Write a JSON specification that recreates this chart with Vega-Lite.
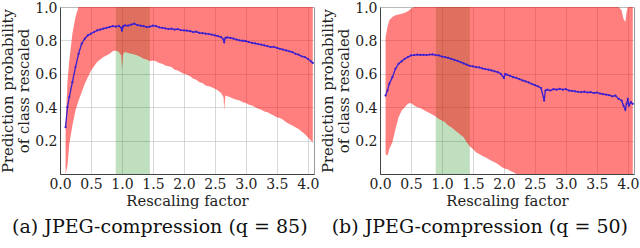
{
 "$schema": "https://vega.github.io/schema/vega-lite/v6.json",
 "background": "white",
 "padding": {"left": 0, "top": 0, "right": 0, "bottom": 0},
 "spacing": 66,
 "bounds": "flush",
 "config": {
  "font": "DejaVu Serif",
  "view": {"stroke": "#9a9a9a", "strokeWidth": 1},
  "axis": {"labelFont": "DejaVu Serif", "titleFont": "DejaVu Serif", "labelFontSize": 14, "titleFontSize": 14.8, "titleFontWeight": "normal", "labelColor": "#222", "titleColor": "#222", "grid": true, "gridColor": "#c8c8c8", "gridOpacity": 0.7, "ticks": false, "domainColor": "#444", "zindex": 1, "labelOverlap": false, "labelFlush": false},
  "title": {"font": "DejaVu Serif", "fontSize": 19, "fontWeight": "normal", "color": "#111", "orient": "bottom", "anchor": "middle", "frame": "bounds", "offset": 10}
 },
 "datasets": {
  "band": [{"x1": 0.9, "x2": 1.45}],
  "a": [
   {"x":0.09,"m":0.28,"lo":0.0,"hi":0.3},
   {"x":0.12,"m":0.40,"lo":0.05,"hi":0.55},
   {"x":0.15,"m":0.46,"lo":0.18,"hi":0.68},
   {"x":0.2,"m":0.55,"lo":0.29,"hi":0.84},
   {"x":0.25,"m":0.64,"lo":0.38,"hi":0.94},
   {"x":0.3,"m":0.72,"lo":0.44,"hi":1.0},
   {"x":0.35,"m":0.78,"lo":0.49,"hi":1.0},
   {"x":0.4,"m":0.81,"lo":0.54,"hi":1.0},
   {"x":0.45,"m":0.83,"lo":0.58,"hi":1.0},
   {"x":0.5,"m":0.84,"lo":0.62,"hi":1.0},
   {"x":0.55,"m":0.85,"lo":0.645,"hi":1.0},
   {"x":0.6,"m":0.86,"lo":0.67,"hi":1.0},
   {"x":0.65,"m":0.865,"lo":0.685,"hi":1.0},
   {"x":0.7,"m":0.87,"lo":0.70,"hi":1.0},
   {"x":0.75,"m":0.875,"lo":0.71,"hi":1.0},
   {"x":0.8,"m":0.88,"lo":0.72,"hi":1.0},
   {"x":0.85,"m":0.885,"lo":0.735,"hi":1.0},
   {"x":0.9,"m":0.882,"lo":0.74,"hi":1.0},
   {"x":0.95,"m":0.887,"lo":0.73,"hi":1.0},
   {"x":0.99,"m":0.875,"lo":0.71,"hi":1.0},
   {"x":1.0,"m":0.86,"lo":0.63,"hi":1.0},
   {"x":1.02,"m":0.885,"lo":0.72,"hi":1.0},
   {"x":1.05,"m":0.89,"lo":0.73,"hi":1.0},
   {"x":1.1,"m":0.888,"lo":0.725,"hi":1.0},
   {"x":1.15,"m":0.895,"lo":0.72,"hi":1.0},
   {"x":1.2,"m":0.90,"lo":0.715,"hi":1.0},
   {"x":1.25,"m":0.892,"lo":0.71,"hi":1.0},
   {"x":1.3,"m":0.888,"lo":0.70,"hi":1.0},
   {"x":1.35,"m":0.885,"lo":0.69,"hi":1.0},
   {"x":1.4,"m":0.88,"lo":0.685,"hi":1.0},
   {"x":1.45,"m":0.882,"lo":0.675,"hi":1.0},
   {"x":1.5,"m":0.888,"lo":0.68,"hi":1.0},
   {"x":1.55,"m":0.885,"lo":0.675,"hi":1.0},
   {"x":1.6,"m":0.878,"lo":0.665,"hi":1.0},
   {"x":1.65,"m":0.875,"lo":0.66,"hi":1.0},
   {"x":1.7,"m":0.872,"lo":0.65,"hi":1.0},
   {"x":1.75,"m":0.868,"lo":0.645,"hi":1.0},
   {"x":1.8,"m":0.87,"lo":0.64,"hi":1.0},
   {"x":1.85,"m":0.865,"lo":0.625,"hi":1.0},
   {"x":1.9,"m":0.868,"lo":0.62,"hi":1.0},
   {"x":1.95,"m":0.862,"lo":0.61,"hi":1.0},
   {"x":2.0,"m":0.86,"lo":0.60,"hi":1.0},
   {"x":2.05,"m":0.858,"lo":0.595,"hi":1.0},
   {"x":2.1,"m":0.855,"lo":0.585,"hi":1.0},
   {"x":2.15,"m":0.85,"lo":0.57,"hi":1.0},
   {"x":2.2,"m":0.852,"lo":0.565,"hi":1.0},
   {"x":2.25,"m":0.845,"lo":0.55,"hi":1.0},
   {"x":2.3,"m":0.843,"lo":0.545,"hi":1.0},
   {"x":2.35,"m":0.84,"lo":0.53,"hi":1.0},
   {"x":2.4,"m":0.838,"lo":0.525,"hi":1.0},
   {"x":2.45,"m":0.835,"lo":0.52,"hi":1.0},
   {"x":2.5,"m":0.83,"lo":0.51,"hi":1.0},
   {"x":2.55,"m":0.825,"lo":0.50,"hi":1.0},
   {"x":2.6,"m":0.82,"lo":0.485,"hi":1.0},
   {"x":2.64,"m":0.805,"lo":0.46,"hi":1.0},
   {"x":2.65,"m":0.79,"lo":0.38,"hi":1.0},
   {"x":2.67,"m":0.815,"lo":0.47,"hi":1.0},
   {"x":2.7,"m":0.818,"lo":0.465,"hi":1.0},
   {"x":2.75,"m":0.815,"lo":0.46,"hi":1.0},
   {"x":2.8,"m":0.81,"lo":0.45,"hi":1.0},
   {"x":2.85,"m":0.805,"lo":0.445,"hi":1.0},
   {"x":2.9,"m":0.80,"lo":0.44,"hi":1.0},
   {"x":2.95,"m":0.798,"lo":0.43,"hi":1.0},
   {"x":3.0,"m":0.795,"lo":0.425,"hi":1.0},
   {"x":3.05,"m":0.79,"lo":0.415,"hi":1.0},
   {"x":3.1,"m":0.785,"lo":0.41,"hi":1.0},
   {"x":3.15,"m":0.782,"lo":0.40,"hi":1.0},
   {"x":3.2,"m":0.778,"lo":0.39,"hi":1.0},
   {"x":3.25,"m":0.775,"lo":0.385,"hi":1.0},
   {"x":3.3,"m":0.77,"lo":0.375,"hi":1.0},
   {"x":3.35,"m":0.765,"lo":0.37,"hi":1.0},
   {"x":3.4,"m":0.76,"lo":0.36,"hi":1.0},
   {"x":3.45,"m":0.762,"lo":0.35,"hi":1.0},
   {"x":3.5,"m":0.755,"lo":0.34,"hi":1.0},
   {"x":3.55,"m":0.75,"lo":0.335,"hi":1.0},
   {"x":3.6,"m":0.745,"lo":0.325,"hi":1.0},
   {"x":3.65,"m":0.74,"lo":0.31,"hi":1.0},
   {"x":3.7,"m":0.735,"lo":0.30,"hi":1.0},
   {"x":3.75,"m":0.73,"lo":0.29,"hi":1.0},
   {"x":3.8,"m":0.72,"lo":0.28,"hi":1.0},
   {"x":3.85,"m":0.715,"lo":0.27,"hi":1.0},
   {"x":3.9,"m":0.705,"lo":0.255,"hi":1.0},
   {"x":3.95,"m":0.70,"lo":0.24,"hi":1.0},
   {"x":4.0,"m":0.69,"lo":0.22,"hi":1.0},
   {"x":4.05,"m":0.675,"lo":0.20,"hi":1.0},
   {"x":4.08,"m":0.665,"lo":0.19,"hi":1.0}
  ],
  "b": [
   {"x":0.09,"m":0.47,"lo":0.12,"hi":0.82},
   {"x":0.12,"m":0.50,"lo":0.11,"hi":0.88},
   {"x":0.15,"m":0.54,"lo":0.15,"hi":0.92},
   {"x":0.2,"m":0.58,"lo":0.19,"hi":0.94},
   {"x":0.25,"m":0.63,"lo":0.27,"hi":0.95},
   {"x":0.3,"m":0.66,"lo":0.34,"hi":0.955},
   {"x":0.35,"m":0.675,"lo":0.38,"hi":0.96},
   {"x":0.4,"m":0.69,"lo":0.40,"hi":0.965},
   {"x":0.45,"m":0.70,"lo":0.42,"hi":0.975},
   {"x":0.5,"m":0.71,"lo":0.425,"hi":0.99},
   {"x":0.55,"m":0.712,"lo":0.41,"hi":1.0},
   {"x":0.6,"m":0.715,"lo":0.40,"hi":1.0},
   {"x":0.65,"m":0.713,"lo":0.395,"hi":1.0},
   {"x":0.7,"m":0.714,"lo":0.385,"hi":1.0},
   {"x":0.75,"m":0.712,"lo":0.375,"hi":1.0},
   {"x":0.8,"m":0.715,"lo":0.365,"hi":1.0},
   {"x":0.85,"m":0.716,"lo":0.355,"hi":1.0},
   {"x":0.9,"m":0.712,"lo":0.345,"hi":1.0},
   {"x":0.95,"m":0.71,"lo":0.33,"hi":1.0},
   {"x":1.0,"m":0.703,"lo":0.32,"hi":1.0},
   {"x":1.05,"m":0.70,"lo":0.31,"hi":1.0},
   {"x":1.1,"m":0.695,"lo":0.29,"hi":1.0},
   {"x":1.15,"m":0.69,"lo":0.28,"hi":1.0},
   {"x":1.2,"m":0.683,"lo":0.265,"hi":1.0},
   {"x":1.25,"m":0.678,"lo":0.25,"hi":1.0},
   {"x":1.3,"m":0.67,"lo":0.235,"hi":1.0},
   {"x":1.35,"m":0.662,"lo":0.22,"hi":1.0},
   {"x":1.4,"m":0.655,"lo":0.19,"hi":1.0},
   {"x":1.45,"m":0.648,"lo":0.165,"hi":1.0},
   {"x":1.5,"m":0.645,"lo":0.15,"hi":1.0},
   {"x":1.55,"m":0.64,"lo":0.13,"hi":1.0},
   {"x":1.6,"m":0.638,"lo":0.12,"hi":1.0},
   {"x":1.65,"m":0.632,"lo":0.11,"hi":1.0},
   {"x":1.7,"m":0.628,"lo":0.10,"hi":1.0},
   {"x":1.75,"m":0.625,"lo":0.09,"hi":1.0},
   {"x":1.8,"m":0.62,"lo":0.08,"hi":1.0},
   {"x":1.85,"m":0.615,"lo":0.07,"hi":1.0},
   {"x":1.9,"m":0.61,"lo":0.06,"hi":1.0},
   {"x":1.95,"m":0.60,"lo":0.045,"hi":1.0},
   {"x":2.0,"m":0.575,"lo":0.035,"hi":1.0},
   {"x":2.02,"m":0.598,"lo":0.032,"hi":1.0},
   {"x":2.05,"m":0.595,"lo":0.03,"hi":1.0},
   {"x":2.1,"m":0.588,"lo":0.02,"hi":1.0},
   {"x":2.15,"m":0.58,"lo":0.01,"hi":1.0},
   {"x":2.2,"m":0.575,"lo":0.0,"hi":1.0},
   {"x":2.25,"m":0.568,"lo":0.0,"hi":1.0},
   {"x":2.3,"m":0.56,"lo":0.0,"hi":1.0},
   {"x":2.35,"m":0.555,"lo":0.0,"hi":1.0},
   {"x":2.4,"m":0.548,"lo":0.0,"hi":1.0},
   {"x":2.45,"m":0.54,"lo":0.0,"hi":1.0},
   {"x":2.5,"m":0.532,"lo":0.0,"hi":1.0},
   {"x":2.55,"m":0.525,"lo":0.0,"hi":1.0},
   {"x":2.6,"m":0.515,"lo":0.0,"hi":1.0},
   {"x":2.65,"m":0.44,"lo":0.0,"hi":1.0},
   {"x":2.67,"m":0.50,"lo":0.0,"hi":1.0},
   {"x":2.7,"m":0.505,"lo":0.0,"hi":1.0},
   {"x":2.75,"m":0.50,"lo":0.0,"hi":1.0},
   {"x":2.8,"m":0.508,"lo":0.0,"hi":1.0},
   {"x":2.85,"m":0.505,"lo":0.0,"hi":1.0},
   {"x":2.9,"m":0.51,"lo":0.0,"hi":1.0},
   {"x":2.95,"m":0.505,"lo":0.0,"hi":1.0},
   {"x":3.0,"m":0.508,"lo":0.0,"hi":1.0},
   {"x":3.05,"m":0.50,"lo":0.0,"hi":1.0},
   {"x":3.1,"m":0.498,"lo":0.0,"hi":1.0},
   {"x":3.15,"m":0.495,"lo":0.0,"hi":1.0},
   {"x":3.2,"m":0.492,"lo":0.0,"hi":1.0},
   {"x":3.25,"m":0.49,"lo":0.0,"hi":1.0},
   {"x":3.3,"m":0.493,"lo":0.0,"hi":1.0},
   {"x":3.35,"m":0.488,"lo":0.0,"hi":1.0},
   {"x":3.4,"m":0.49,"lo":0.0,"hi":1.0},
   {"x":3.45,"m":0.485,"lo":0.0,"hi":1.0},
   {"x":3.5,"m":0.488,"lo":0.0,"hi":1.0},
   {"x":3.55,"m":0.482,"lo":0.0,"hi":1.0},
   {"x":3.6,"m":0.478,"lo":0.0,"hi":1.0},
   {"x":3.65,"m":0.475,"lo":0.0,"hi":1.0},
   {"x":3.7,"m":0.472,"lo":0.0,"hi":1.0},
   {"x":3.75,"m":0.465,"lo":0.0,"hi":1.0},
   {"x":3.8,"m":0.47,"lo":0.0,"hi":1.0},
   {"x":3.85,"m":0.45,"lo":0.0,"hi":1.0},
   {"x":3.9,"m":0.44,"lo":0.0,"hi":0.98},
   {"x":3.93,"m":0.41,"lo":0.0,"hi":0.93},
   {"x":3.96,"m":0.385,"lo":0.0,"hi":0.91},
   {"x":3.98,"m":0.42,"lo":0.0,"hi":0.97},
   {"x":4.0,"m":0.45,"lo":0.0,"hi":1.0},
   {"x":4.02,"m":0.41,"lo":0.0,"hi":1.0},
   {"x":4.05,"m":0.43,"lo":0.0,"hi":1.0},
   {"x":4.08,"m":0.42,"lo":0.0,"hi":1.0}
  ]
 },
 "hconcat": [
  {
   "width": 254, "height": 167,
   "title": {"text": "(a) JPEG-compression (q = 85)"},
   "encoding": {
    "x": {"field": "x", "type": "quantitative", "scale": {"domain": [0, 4.1], "nice": false}, "axis": {"values": [0, 0.5, 1, 1.5, 2, 2.5, 3, 3.5, 4], "format": ".1f", "title": "Rescaling factor", "labelFont": "DejaVu Serif", "titleFont": "DejaVu Serif", "labelFlush": false, "labelPadding": 3, "titlePadding": 2}},
    "y": {"type": "quantitative", "scale": {"domain": [0, 1], "nice": false}, "axis": {"values": [0.2, 0.4, 0.6, 0.8, 1.0], "format": ".1f", "title": ["Prediction probability", "of class rescaled"], "labelFont": "DejaVu Serif", "titleFont": "DejaVu Serif", "labelFlush": false, "labelOffset": 1, "titleLineHeight": 16, "labelPadding": 3, "titlePadding": 3}}
   },
   "layer": [
    {"data": {"name": "band"}, "mark": {"type": "rect", "color": "#008000", "opacity": 0.25}, "encoding": {"x": {"field": "x1", "type": "quantitative"}, "x2": {"field": "x2"}, "y": {"datum": 0}, "y2": {"datum": 1}}},
    {"data": {"name": "a"}, "mark": {"type": "area", "color": "#ff0000", "opacity": 0.5}, "encoding": {"y": {"field": "lo"}, "y2": {"field": "hi"}}},
    {"data": {"name": "a"}, "mark": {"type": "line", "color": "#3a1fd0", "strokeWidth": 1.3, "point": {"size": 5, "filled": true, "color": "#3a1fd0"}}, "encoding": {"y": {"field": "m"}}}
   ]
  },
  {
   "width": 254, "height": 167,
   "title": {"text": "(b) JPEG-compression (q = 50)"},
   "encoding": {
    "x": {"field": "x", "type": "quantitative", "scale": {"domain": [0, 4.1], "nice": false}, "axis": {"values": [0, 0.5, 1, 1.5, 2, 2.5, 3, 3.5, 4], "format": ".1f", "title": "Rescaling factor", "labelFont": "DejaVu Serif", "titleFont": "DejaVu Serif", "labelFlush": false, "labelPadding": 3, "titlePadding": 2}},
    "y": {"type": "quantitative", "scale": {"domain": [0, 1], "nice": false}, "axis": {"values": [0.2, 0.4, 0.6, 0.8, 1.0], "format": ".1f", "title": ["Prediction probability", "of class rescaled"], "labelFont": "DejaVu Serif", "titleFont": "DejaVu Serif", "labelFlush": false, "labelOffset": 1, "titleLineHeight": 16, "labelPadding": 3, "titlePadding": 3}}
   },
   "layer": [
    {"data": {"name": "band"}, "mark": {"type": "rect", "color": "#008000", "opacity": 0.25}, "encoding": {"x": {"field": "x1", "type": "quantitative"}, "x2": {"field": "x2"}, "y": {"datum": 0}, "y2": {"datum": 1}}},
    {"data": {"name": "b"}, "mark": {"type": "area", "color": "#ff0000", "opacity": 0.5}, "encoding": {"y": {"field": "lo"}, "y2": {"field": "hi"}}},
    {"data": {"name": "b"}, "mark": {"type": "line", "color": "#3a1fd0", "strokeWidth": 1.3, "point": {"size": 5, "filled": true, "color": "#3a1fd0"}}, "encoding": {"y": {"field": "m"}}}
   ]
  }
 ]
}
